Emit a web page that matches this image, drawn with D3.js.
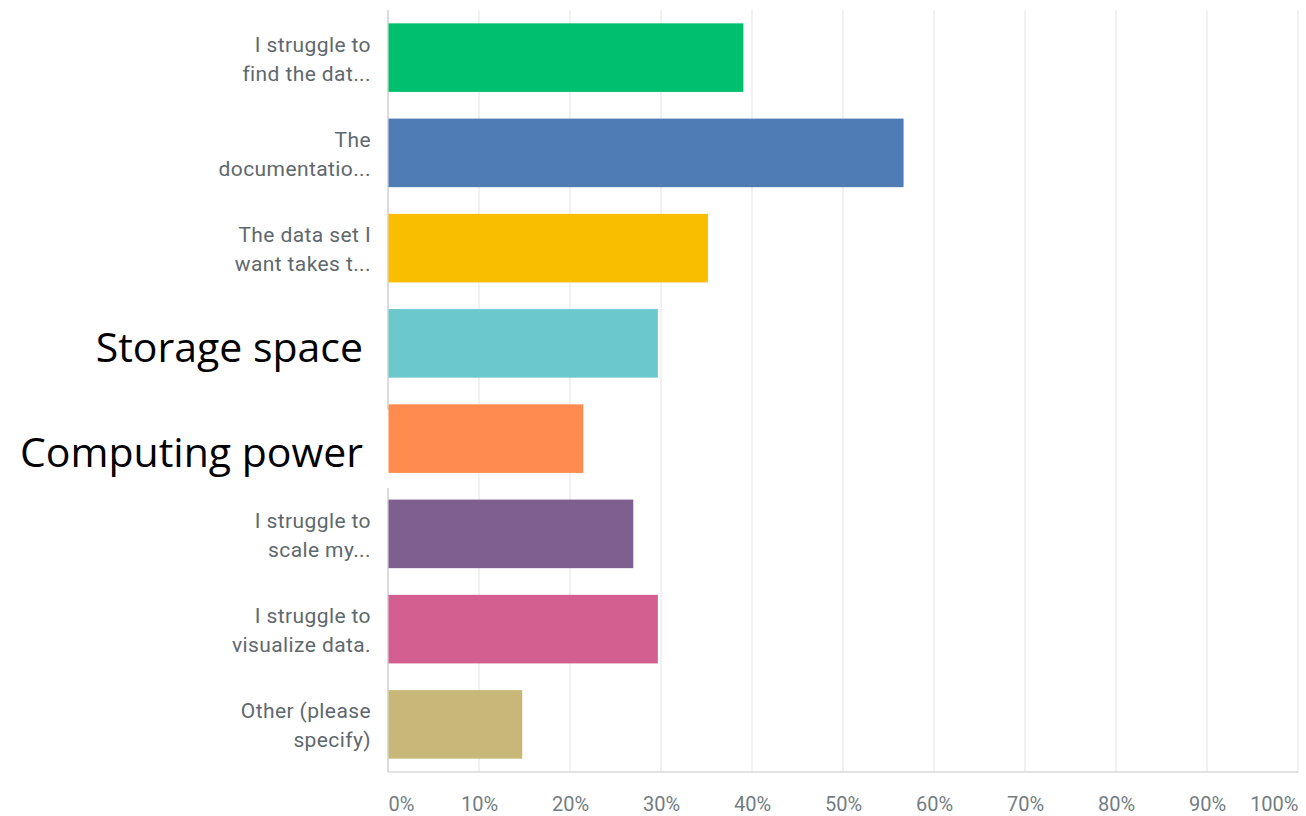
<!DOCTYPE html>
<html>
<head>
<meta charset="utf-8">
<script src="https://cdn.jsdelivr.net/npm/d3@7"></script>
<style>
body { margin:0; background:white; }
.label { font-family:Roboto, "Noto Sans", sans-serif; font-size:21px; letter-spacing:0.4px; fill:#5e686d; }
.tick text { font-family:Roboto, "Noto Sans", sans-serif; font-size:20px; fill:#737d82; }
.big { font-family:"Open Sans", "Lato", sans-serif; fill:#000; }
</style>
</head>
<body>
<svg width="1306" height="816"></svg>
<script>
//answer labels, each one split in two lines
var categories = [
    ["I struggle to","find the dat..."],
    ["The","documentatio..."],
    ["The data set I","want takes t..."],
    ["Storage space"],
    ["Computing power"],
    ["I struggle to","scale my..."],
    ["I struggle to","visualize data."],
    ["Other (please","specify)"]
]
//percent of answers
var values = [39.0, 56.6, 35.1, 29.6, 21.4, 26.9, 29.6, 14.7]
var colors = ["#00bf6f","#507cb6","#f9be00","#6bc8cd","#ff8b4f","#7f5f90","#d25f90","#c7b879"]
var tickValues = [0,10,20,30,40,50,60,70,80,90,100]

var margins = {left:388,right:8,top:10,bottom:44}
var screen = {width:1306,height:816}
var graph = {width:screen.width-margins.left-margins.right,
             height:screen.height-margins.top-margins.bottom}

var xScale = d3.scaleLinear()
    .domain([0,100])
    .range([0,graph.width])

var yScale = d3.scaleBand()
    .domain(d3.range(categories.length))
    .range([0,graph.height])
    .paddingInner(0.28)
    .paddingOuter(0.14)

var svg = d3.select("svg")

var target = svg.append("g")
    .attr("id","graph")
    .attr("transform","translate("+margins.left+","+margins.top+")")

//grid lines
target.append("g")
    .selectAll("line")
    .data(tickValues.slice(1))
    .enter()
    .append("line")
    .attr("x1",function(d){return xScale(d)})
    .attr("x2",function(d){return xScale(d)})
    .attr("y1",0)
    .attr("y2",graph.height)
    .attr("stroke","#ececec")
    .attr("stroke-width",1.5)

//axis lines
target.append("line")
    .attr("x1",0).attr("x2",0)
    .attr("y1",0).attr("y2",graph.height)
    .attr("stroke","#d0d0d0")
    .attr("stroke-width",1.5)
target.append("line")
    .attr("x1",0).attr("x2",graph.width)
    .attr("y1",graph.height).attr("y2",graph.height)
    .attr("stroke","#d8d8d8")
    .attr("stroke-width",1.5)

//the pasted "Computing power" picture hides a piece of the axis
target.append("rect")
    .attr("x",-3)
    .attr("y",yScale(4)+6)
    .attr("width",4)
    .attr("height",yScale.bandwidth()+9)
    .attr("fill","white")

//bars
target.selectAll(".bar")
    .data(values)
    .enter()
    .append("rect")
    .classed("bar",true)
    .attr("x",0.5)
    .attr("y",function(d,i){return yScale(i)})
    .attr("width",function(d){return xScale(d)})
    .attr("height",yScale.bandwidth())
    .attr("fill",function(d,i){return colors[i]})

//x axis labels
var xAxis = d3.axisBottom(xScale)
    .tickValues(tickValues)
    .tickSize(0)
    .tickFormat(function(d){return d+"%"})

var ax = target.append("g")
    .attr("transform","translate(0,"+(graph.height+22)+")")
    .call(xAxis)
ax.select(".domain").remove()
ax.selectAll(".tick text")
    .attr("text-anchor",function(d){return d==0?"start":(d==100?"end":"middle")})

//category labels
var labels = svg.append("g")
categories.forEach(function(lines,i)
{
    var cy = margins.top+yScale(i)+yScale.bandwidth()/2
    if(lines.length==1)
    {
        //these two were pasted over in a bigger black font
        labels.append("text")
            .text(lines[0])
            .classed("big",true)
            .attr("font-size",41)
            .attr("text-anchor","end")
            .attr("x",363)
            .attr("y",cy+(i==3?19:28))
    }
    else
    {
        lines.forEach(function(t,j)
        {
            labels.append("text")
                .text(t)
                .classed("label",true)
                .attr("text-anchor","end")
                .attr("x",371)
                .attr("y",cy-6+29*j)
        })
    }
})
</script>
</body>
</html>
